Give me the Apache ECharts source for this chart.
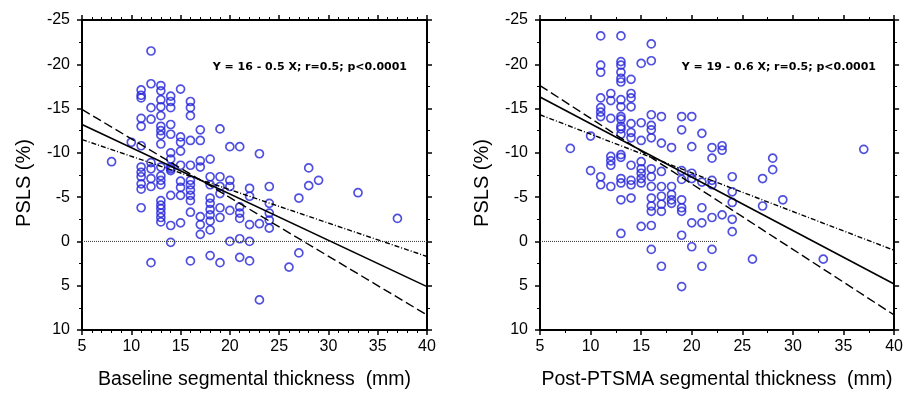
<!DOCTYPE html>
<html>
<head>
<meta charset="utf-8">
<script src="https://cdn.jsdelivr.net/npm/echarts@6/dist/echarts.min.js"></script>
<style>
html,body{margin:0;padding:0;background:#fff;}
#c{width:906px;height:395px;}
</style>
</head>
<body>
<div id="c"></div>
<script>
// ---------- DATA ----------
// Left panel: baseline segmental thickness (mm) columns and PSLS (%) values in each column
const baselineThickness = [8, 10, 11, 12, 13, 14, 15, 16, 17, 18, 19, 20, 21, 22, 23, 24, 26, 27, 28, 29, 33, 37];
const baselinePSLS = [
  [-9.0],
  [-11.2],
  [-17.1, -16.5, -16.2, -13.9, -13.0, -10.8, -8.4, -7.8, -7.3, -6.5, -5.9, -3.8],
  [-21.5, -17.8, -15.1, -13.8, -8.9, -8.2, -7.1, -6.2, 2.4],
  [-17.6, -17.0, -16.0, -15.2, -14.2, -13.0, -12.5, -12.0, -11.0, -8.4, -7.4, -6.9, -6.4, -4.6, -4.1, -3.7, -3.2, -2.7, -2.2],
  [-16.4, -15.8, -15.1, -13.2, -12.1, -10.0, -9.3, -8.4, -8.2, -8.0, -5.2, -1.8, 0.1],
  [-17.2, -11.8, -11.2, -10.2, -8.6, -6.8, -6.1, -5.2, -2.1],
  [-15.8, -15.1, -14.2, -11.4, -8.6, -6.9, -6.4, -5.8, -5.2, -4.6, -3.3, 2.2],
  [-12.6, -11.4, -9.1, -8.4, -2.8, -1.9, -0.8],
  [-9.3, -7.3, -6.4, -4.9, -4.3, -3.6, -3.0, -2.3, -1.3, 1.6],
  [-12.7, -7.3, -6.2, -5.4, -3.8, -2.7, 2.4],
  [-10.7, -6.9, -6.2, -3.5, 0],
  [-10.7, -3.9, -3.2, -2.6, -0.3, 1.8],
  [-6.0, -5.1, -1.9, 0, 2.2],
  [-9.9, -2.0, 6.6],
  [-6.2, -4.3, -3.2, -2.4, -1.5],
  [2.9],
  [-4.9, 1.3],
  [-8.3, -6.3],
  [-6.9],
  [-5.5],
  [-2.6]
];
// Right panel: post-PTSMA segmental thickness (mm) columns and PSLS (%) values
const postThickness = [8, 10, 11, 12, 13, 14, 15, 16, 17, 18, 19, 20, 21, 22, 23, 24, 26, 27, 28, 29, 33, 37];
const postPSLS = [
  [-10.5],
  [-11.9, -8.0],
  [-23.2, -19.9, -19.1, -16.2, -15.1, -14.6, -14.1, -7.3, -6.4],
  [-16.7, -15.9, -13.9, -9.6, -9.1, -8.6, -6.2],
  [-23.2, -20.3, -19.9, -19.1, -18.4, -18.0, -16.0, -15.2, -14.1, -13.8, -13.0, -12.7, -12.1, -9.8, -9.5, -7.1, -6.6, -4.7, -0.9],
  [-18.3, -16.7, -16.2, -15.2, -13.3, -12.3, -11.7, -8.6, -6.9, -6.4, -4.9],
  [-20.1, -13.4, -11.4, -9.0, -8.2, -7.7, -7.1, -6.6, -1.7],
  [-22.3, -20.4, -14.3, -13.1, -12.6, -11.7, -8.2, -7.3, -6.2, -4.9, -4.0, -3.4, -1.8, 0.9],
  [-14.1, -11.1, -7.9, -6.2, -5.1, -4.2, -3.4, 2.8],
  [-10.6, -6.2, -5.3, -4.7, -4.3],
  [-14.1, -12.6, -8.0, -7.0, -4.7, -3.8, -3.4, -0.7, 5.1],
  [-14.1, -10.7, -7.7, -7.1, -2.1, 0.6],
  [-12.2, -6.7, -3.8, -2.1, 2.8],
  [-10.6, -9.4, -6.9, -6.4, -2.7, 0.9],
  [-10.8, -10.3, -3.0],
  [-7.3, -5.6, -4.4, -2.5, -1.1],
  [2.0],
  [-7.1, -4.0],
  [-9.4, -8.1],
  [-4.7],
  [2.0],
  [-10.4]
];
// Regression line and confidence lines (read at the two ends x = 5 and x = 40)
const fitX = [5, 40];
const baselineFit = [-13.2, 5.1];
const baselineLimitShallow = [-11.5, 1.7];
const baselineLimitSteep = [-14.9, 8.3];
const postFit = [-16.3, 4.8];
const postLimitShallow = [-14.3, 1.0];
const postLimitSteep = [-17.6, 8.3];
// Zero reference lines
const baselineZeroX = [5, 40];
const postZeroX = [5, 22.5];
// Tick labels / axis text
const xTicks = [5, 10, 15, 20, 25, 30, 35, 40];
const yTicks = [-25, -20, -15, -10, -5, 0, 5, 10];
const xNames = ['Baseline segmental thickness  (mm)', 'Post-PTSMA segmental thickness  (mm)'];
const yName = 'PSLS (%)';
const equations = ['Y = 16 - 0.5 X; r=0.5; p<0.0001', 'Y = 19 - 0.6 X; r=0.5; p<0.0001'];

// ---------- BUILD ----------
function pts(cols, vals) {
  const out = [];
  cols.forEach((x, i) => vals[i].forEach(y => out.push([x, y])));
  return out;
}
function pairs(xs, ys) { return xs.map((x, i) => [x, ys[i]]); }

const FONT = "'Liberation Sans Narrow', 'Liberation Sans', Arial, sans-serif";
const BLUE = '#2424d8';

function xAxisCfg(grid, pos, labels, minorSplit, name) {
  return {
    type: 'value', gridIndex: grid, position: pos,
    min: xTicks[0], max: xTicks[xTicks.length - 1], interval: 5,
    axisLine: { show: true, onZero: false, lineStyle: { color: '#000', width: 2 } },
    axisTick: { show: true, inside: false, length: 5, lineStyle: { color: '#000', width: 1.5 } },
    minorTick: { show: true, splitNumber: minorSplit, length: 3, lineStyle: { color: '#000', width: 1 } },
    splitLine: { show: false },
    axisLabel: { show: labels, margin: 9, color: '#000', fontSize: 16, fontFamily: FONT },
    name: labels ? name : '', nameLocation: 'middle', nameGap: 40,
    nameTextStyle: { color: '#000', fontSize: 19.5, fontFamily: FONT }
  };
}
function yAxisCfg(grid, pos, labels) {
  return {
    type: 'value', gridIndex: grid, position: pos, inverse: true,
    min: yTicks[0], max: yTicks[yTicks.length - 1], interval: 5,
    axisLine: { show: true, onZero: false, lineStyle: { color: '#000', width: 2 } },
    axisTick: { show: true, inside: false, length: 5, lineStyle: { color: '#000', width: 1.5 } },
    minorTick: { show: true, splitNumber: 2, length: 3, lineStyle: { color: '#000', width: 1 } },
    splitLine: { show: false },
    axisLabel: { show: labels, margin: 12, color: '#000', fontSize: 16, fontFamily: FONT },
    name: labels ? yName : '', nameLocation: 'middle', nameGap: 48, nameRotate: 90,
    nameTextStyle: { color: '#000', fontSize: 20, fontFamily: FONT, padding: [0, 16, 0, 0] }
  };
}
function scatter(xi, yi, data) {
  return {
    type: 'scatter', xAxisIndex: xi, yAxisIndex: yi, data: data,
    symbol: 'circle', symbolSize: 8,
    itemStyle: { color: 'rgba(0,0,0,0)', borderColor: BLUE, borderWidth: 1.7 },
    z: 3
  };
}
function line(xi, yi, data, type, width, color) {
  return {
    type: 'line', xAxisIndex: xi, yAxisIndex: yi, data: data,
    symbol: 'none', silent: true, animation: false,
    lineStyle: { color: color || '#000', width: width, type: type },
    z: 4
  };
}

const EQFONT = "bold 11px 'DejaVu Sans', Verdana, sans-serif";
const option = {
  backgroundColor: '#fff',
  animation: false,
  grid: [
    { left: 82, top: 20, width: 345, height: 315 },
    { left: 540, top: 20, width: 357, height: 315 }
  ],
  xAxis: [
    xAxisCfg(0, 'bottom', true, 5, xNames[0]),
    xAxisCfg(0, 'top', false, 5, ''),
    xAxisCfg(1, 'bottom', true, 2, xNames[1]),
    xAxisCfg(1, 'top', false, 2, '')
  ],
  yAxis: [
    yAxisCfg(0, 'left', true),
    yAxisCfg(0, 'right', false),
    yAxisCfg(1, 'left', true),
    yAxisCfg(1, 'right', false)
  ],
  graphic: [
    { type: 'text', right: 499, top: 62, style: { text: equations[0], font: EQFONT, fill: '#000' } },
    { type: 'text', right: 30, top: 62, style: { text: equations[1], font: EQFONT, fill: '#000' } }
  ],
  series: [
    line(0, 0, baselineZeroX.map(x => [x, 0]), 'dotted', 1, '#333'),
    scatter(0, 0, pts(baselineThickness, baselinePSLS)),
    line(0, 0, pairs(fitX, baselineFit), 'solid', 1.6),
    line(0, 0, pairs(fitX, baselineLimitShallow), [5, 2, 1, 2], 1.4),
    line(0, 0, pairs(fitX, baselineLimitSteep), [9, 4], 1.4),

    line(2, 2, postZeroX.map(x => [x, 0]), 'dotted', 1, '#333'),
    scatter(2, 2, pts(postThickness, postPSLS)),
    line(2, 2, pairs(fitX, postFit), 'solid', 1.6),
    line(2, 2, pairs(fitX, postLimitShallow), [5, 2, 1, 2], 1.4),
    line(2, 2, pairs(fitX, postLimitSteep), [9, 4], 1.4)
  ]
};

const chart = echarts.init(document.getElementById('c'), null, { renderer: 'canvas' });
chart.setOption(option);
</script>
</body>
</html>
